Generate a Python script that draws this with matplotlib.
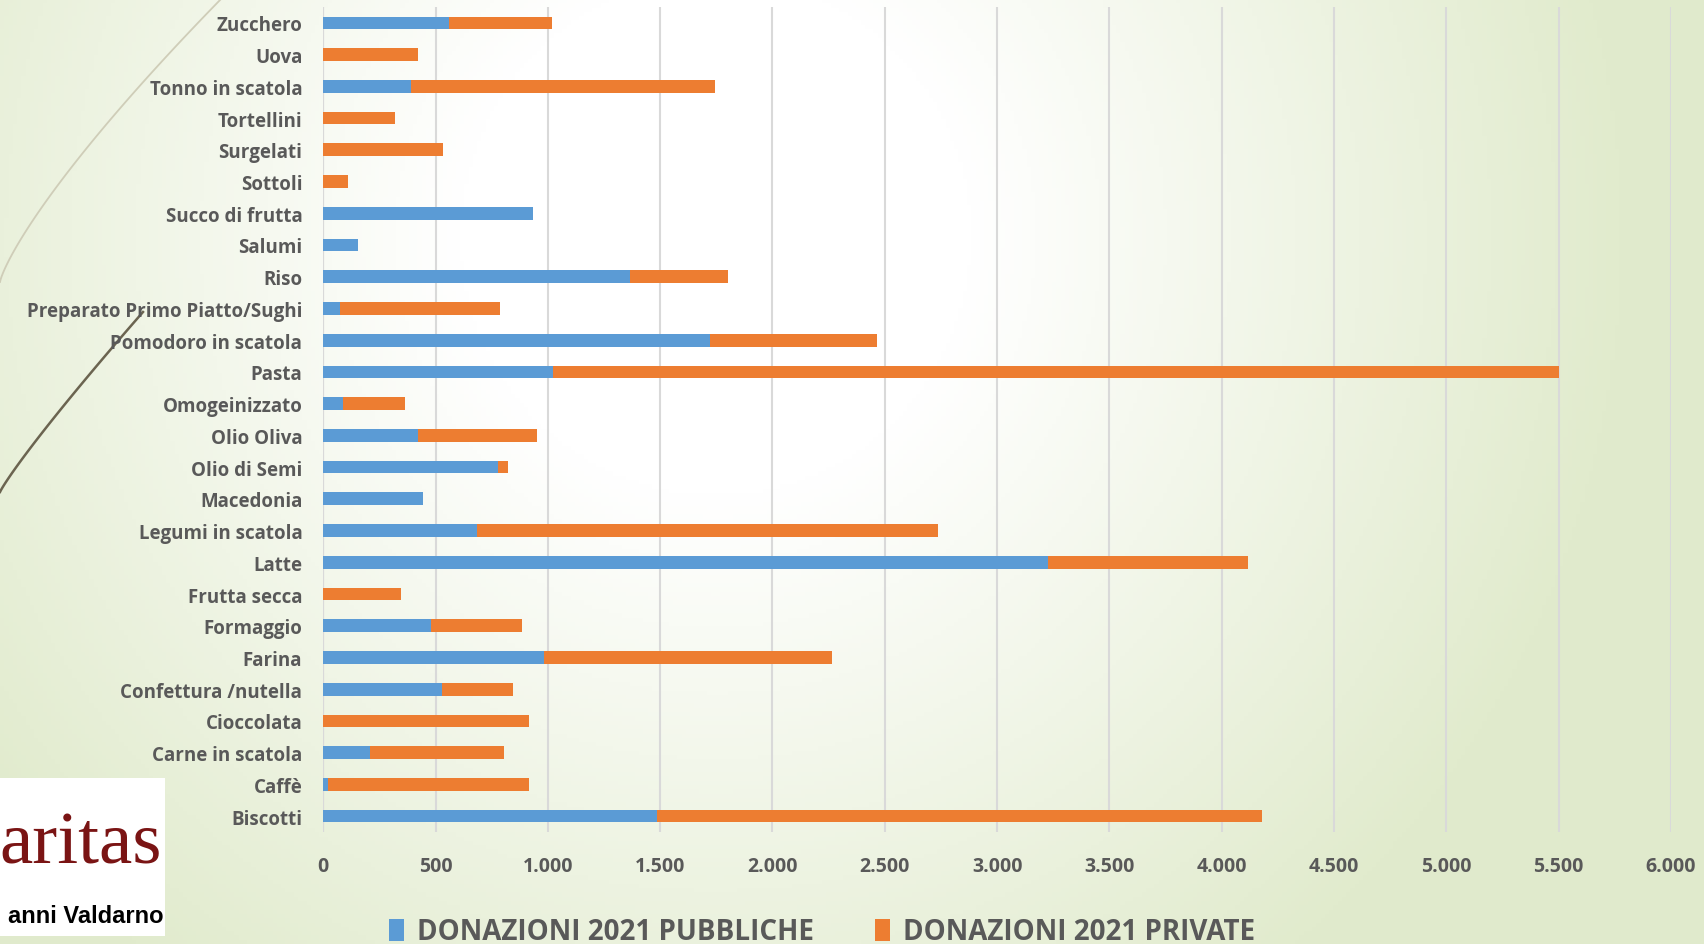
import numpy as np
import matplotlib.pyplot as plt
from matplotlib.ticker import FuncFormatter

categories = ['Zucchero', 'Uova', 'Tonno in scatola', 'Tortellini', 'Surgelati', 'Sottoli',
              'Succo di frutta', 'Salumi', 'Riso', 'Preparato Primo Piatto/Sughi',
              'Pomodoro in scatola', 'Pasta', 'Omogeinizzato', 'Olio Oliva', 'Olio di Semi',
              'Macedonia', 'Legumi in scatola', 'Latte', 'Frutta secca', 'Formaggio', 'Farina',
              'Confettura /nutella', 'Cioccolata', 'Carne in scatola', 'Caffè', 'Biscotti']
pubbliche = [560, 0, 390, 0, 0, 0, 935, 155, 1365, 75, 1720, 1025, 90, 420, 780,
             445, 685, 3225, 0, 480, 985, 530, 0, 210, 20, 1485]
private = [460, 420, 1355, 320, 535, 110, 0, 0, 435, 710, 745, 4475, 273, 530, 43,
           0, 2053, 890, 348, 405, 1280, 315, 918, 595, 898, 2695]
series_names = ['DONAZIONI 2021 PUBBLICHE', 'DONAZIONI 2021 PRIVATE']

BLUE = '#5b9bd5'
ORANGE = '#ed7d31'
TXT = '#595959'
FONT = ['Open Sans', 'DejaVu Sans']
plt.rcParams['font.family'] = FONT

W, H = 1704, 945
fig = plt.figure(figsize=(W / 100, H / 100), dpi=100)

# background gradient (theme)
bg = fig.add_axes([0, 0, 1, 1], zorder=-10)
xx, yy = np.meshgrid(np.linspace(0, 1, 400), np.linspace(0, 1, 220))
d = np.sqrt(((xx - 0.42) / 0.6) ** 2 + ((yy - 0.25) / 1.1) ** 2)
t = np.clip((d - 0.25) / 0.65, 0, 1)
white = np.array([1.0, 1.0, 1.0])
green = np.array([0.88, 0.92, 0.80])
img = white[None, None, :] * (1 - t[..., None]) + green[None, None, :] * t[..., None]
bg.imshow(img, extent=[0, W, H, 0], aspect='auto', origin='upper')
bg.set_xlim(0, W)
bg.set_ylim(H, 0)
bg.axis('off')

# decorative arcs on the left (pixel coordinates)
s = np.linspace(0, 1, 100)
bg.plot(221 * (1 - s) ** 1.25, 283 * s, color='#cfcdb8', lw=1.3)
bg.plot(143 * (1 - s) ** 1.1, 313 + 180 * s, color='#6b6450', lw=1.8)

ax = fig.add_axes([323.2 / W, 1 - 833 / H, (1671 - 323.2) / W, (833 - 8) / H])
ax.patch.set_alpha(0)
y = np.arange(len(categories))
ax.barh(y, pubbliche, height=0.4, color=BLUE, label=series_names[0], zorder=3)
ax.barh(y, private, left=pubbliche, height=0.4, color=ORANGE, label=series_names[1], zorder=3)

ax.set_xlim(0, 6000)
ax.set_ylim(len(categories) - 0.5, -0.5)
ax.set_xticks(np.arange(0, 6001, 500))
ax.xaxis.set_major_formatter(FuncFormatter(lambda v, p: f'{int(v):,}'.replace(',', '.')))
ax.set_yticks(y)
ax.set_yticklabels(categories)
ax.grid(axis='x', color='#d9d9d9', lw=1.5, zorder=0)
for sp in ax.spines.values():
    sp.set_visible(False)
ax.axvline(0, color='#d0d0d0', lw=1.5, zorder=1)
ax.tick_params(axis='y', length=0, pad=15, labelsize=13.5, labelcolor=TXT)
ax.tick_params(axis='x', length=0, pad=17, labelsize=14, labelcolor=TXT)
for lab in ax.get_xticklabels() + ax.get_yticklabels():
    lab.set_fontweight('bold')

leg = fig.legend(loc='center', bbox_to_anchor=(822 / W, 1 - 933 / H), ncol=2, frameon=False,
                 handlelength=0.55, handleheight=0.85, handletextpad=0.45, columnspacing=2.2,
                 prop={'size': 20, 'family': FONT, 'weight': 'bold'})
for txt in leg.get_texts():
    txt.set_color(TXT)

# Caritas logo box
logo = fig.add_axes([0, 1 - 937 / H, 165 / W, (937 - 779) / H])
logo.set_xlim(0, 1)
logo.set_ylim(0, 1)
logo.set_facecolor('white')
logo.set_xticks([])
logo.set_yticks([])
for sp in logo.spines.values():
    sp.set_visible(False)
logo.text(0.98, 0.58, 'aritas', ha='right', va='center', fontsize=54, color='#7a1414',
          family=['Liberation Serif', 'DejaVu Serif'])
logo.text(0.99, 0.13, 'anni Valdarno', ha='right', va='center', fontsize=17, color='black',
          fontweight='bold', family=['Liberation Sans', 'DejaVu Sans'])

fig.savefig('out.png', dpi=100)
